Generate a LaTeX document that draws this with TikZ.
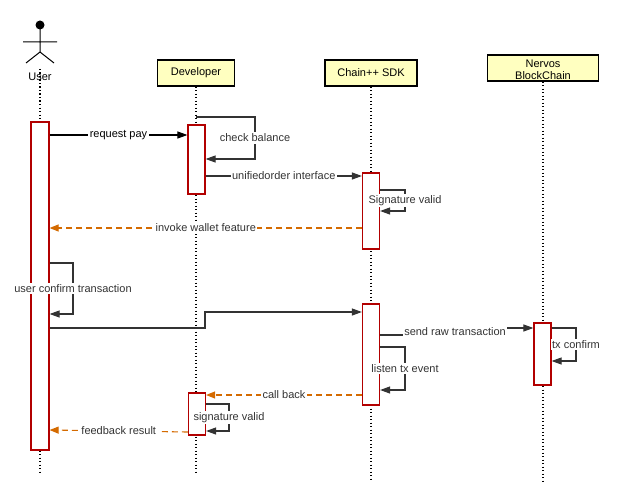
\documentclass[tikz,border=0pt]{standalone}
\usepackage{fontspec}
\setmainfont{Liberation Sans}
\usetikzlibrary{positioning,arrows.meta}
\definecolor{partyfill}{HTML}{FFFFC0}
\definecolor{actred}{HTML}{B20000}
\definecolor{msggrey}{HTML}{333333}
\definecolor{retorange}{HTML}{D46A00}
\tikzstyle{party} = [draw,line width=1.3pt,fill=partyfill,minimum height=26pt,font=\fontsize{11}{12.5}\selectfont]
\tikzstyle{life} = [draw,line width=1.2pt,dash pattern=on 1.3pt off 2.2pt]
\tikzstyle{act} = [draw=actred,line width=1.2pt,fill=white,minimum width=17pt]
\tikzstyle{msg} = [draw=msggrey,line width=1.1pt,-{Triangle[length=10pt,width=7pt]}]
\tikzstyle{ret} = [draw=retorange,line width=1.1pt,dash pattern=on 6pt off 4pt,-{Triangle[length=9pt,width=7pt]}]
\tikzstyle{lbl} = [fill=white,inner sep=1.5pt,text=msggrey,font=\fontsize{11}{12.5}\selectfont]

\begin{document}
\begin{tikzpicture}[x=1pt,y=-1pt]
   \useasboundingbox (0,0) rectangle (617,500);

   % participants
   \fill (40,25) circle (4.5);
   \draw[line width=1pt] (40,25) -- (40,52) (23,42) -- (57,42)
      (26,63) -- (40,52) -- (54,63);
   \node[font=\fontsize{11}{12.5}\selectfont] (user) at (40,77) {User};
   \node[party,minimum width=77pt] (dev) at (196,73) {Developer};
   \node[party,minimum width=92pt] (sdk) at (371,73) {Chain++ SDK};
   \node[party,minimum width=111pt] (chain) at (543,68) {};
   \node[font=\fontsize{11}{12}\selectfont,align=center] (chainname) at (543,70) {Nervos\\BlockChain};

   % lifelines
   \coordinate (userend) at (40,472);
   \coordinate (devend) at (196,474);
   \coordinate (sdkend) at (371,481);
   \coordinate (chainend) at (543,481);
   \path[life] (40,69) -- (userend);
   \path[life] (dev.south) -- (devend);
   \path[life] (sdk.south) -- (sdkend);
   \path[life] (chain.south) -- (chainend);

   % activations
   \node[act,minimum width=18pt,minimum height=328pt] (useract) at (40,286) {};
   \node[act,minimum height=69pt] (devact) at (196.5,159.5) {};
   \node[act,minimum height=42pt] (devcb) at (197,414) {};
   \node[act,minimum height=76pt] (sdkact) at (371,211) {};
   \node[act,minimum height=101pt] (sdksend) at (371,354.5) {};
   \node[act,minimum height=62pt] (chainact) at (542.5,354) {};

   % messages
   \path[msg,draw=black] (useract.east |- 0,135) -- node[lbl,text=black] {request pay} (devact.west |- 0,135);
   \path[msg] (196,117) -- (255,117) -- node[lbl] {check balance} (255,159) -- (devact.east |- 0,159);
   \path[msg] (devact.east |- 0,176) -- node[lbl] {unifiedorder interface} (sdkact.west |- 0,176);
   \path[msg] (sdkact.east |- 0,190) -- (405,190) -- node[lbl] {Signature valid} (405,211) -- (sdkact.east |- 0,211);
   \path[ret] (sdkact.west |- 0,228) -- node[lbl] {invoke wallet feature} (useract.east |- 0,228);
   \path[msg] (useract.east |- 0,263) -- (73,263) -- node[lbl] {user confirm transaction} (73,314) -- (useract.east |- 0,314);
   \path[msg] (useract.east |- 0,328) -- (205,328) -- (205,312) -- (sdksend.west |- 0,312);
   \path[msg] (sdksend.east |- 0,335) -- (455,335) -- node[lbl] {send raw transaction} (455,328) -- (chainact.west |- 0,328);
   \path[msg] (chainact.east |- 0,328) -- (576,328) -- node[lbl] {tx confirm} (576,361) -- (chainact.east |- 0,361);
   \path[msg] (sdksend.east |- 0,347) -- (405,347) -- node[lbl] {listen tx event} (405,390) -- (sdksend.east |- 0,390);
   \path[ret] (sdksend.west |- 0,395) -- node[lbl] {call back} (devcb.east |- 0,395);
   \path[msg] (devcb.east |- 0,404) -- (229,404) -- node[lbl] {signature valid} (229,431) -- (devcb.east |- 0,431);
   \path[ret] (devcb.west |- 0,432) -- node[lbl] {feedback result} (useract.east |- 0,430);
  \end{tikzpicture}
\end{document}
